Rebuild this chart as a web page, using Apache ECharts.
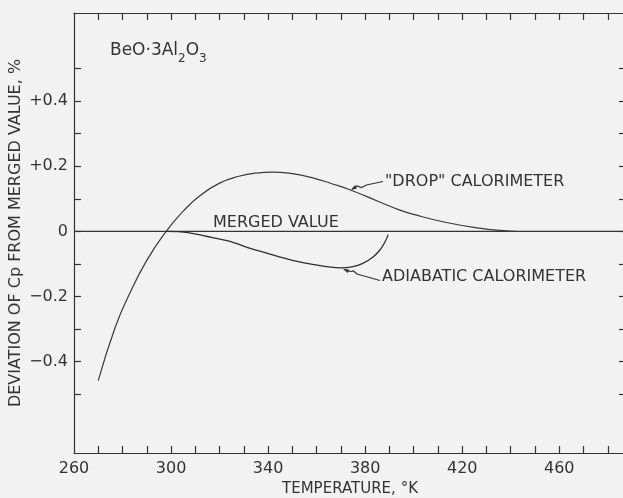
<!DOCTYPE html>
<html>
<head>
<meta charset="utf-8">
<script src="https://cdn.jsdelivr.net/npm/echarts@6/dist/echarts.min.js"></script>
<style>
  html, body { margin: 0; padding: 0; background: #f2f2f2; }
  #chart-container { width: 623px; height: 498px; }
</style>
</head>
<body>
<div id="chart-container"></div>
<script>
// datos
var dropTemp = [270, 277, 283, 290, 298, 305, 312, 320, 328, 335, 342, 350, 358, 366, 375, 386, 394, 400, 413, 427, 437, 442];
var dropDev = [-0.458, -0.294, -0.190, -0.089, 0, 0.062, 0.110, 0.148, 0.169, 0.179, 0.182, 0.177, 0.165, 0.147, 0.124, 0.090, 0.066, 0.052, 0.028, 0.010, 0.002, 0];

var adiaTemp = [298, 303, 307, 312, 317, 324, 331, 338, 345, 352, 359, 365, 370, 375, 379, 383, 386, 388, 389.5];
var adiaDev = [0, -0.001, -0.004, -0.011, -0.019, -0.030, -0.048, -0.064, -0.079, -0.092, -0.102, -0.109, -0.112, -0.108, -0.098, -0.080, -0.058, -0.035, -0.010];

var mergedTemp = [260, 490];
var mergedDev = [0, 0];

var xLabelValues = [260, 300, 340, 380, 420, 460];
var xTickValues = [270, 280, 290, 300, 310, 320, 330, 340, 350, 360, 370, 380, 390, 400, 410, 420, 430, 440, 450, 460, 470, 480];
var yLabelValues = [-0.4, -0.2, 0, 0.2, 0.4];
var yTickValues = [-0.5, -0.4, -0.3, -0.2, -0.1, 0, 0.1, 0.2, 0.3, 0.4, 0.5];

function pairs(xs, ys) {
  return xs.map(function (x, i) { return [x, ys[i]]; });
}

var ink = '#333333';
var font = 'DejaVu Sans';

var dom = document.getElementById('chart-container');
var myChart = echarts.init(dom, null, { renderer: 'canvas' });

function xAxisBase(pos, showLabels) {
  return {
    type: 'value',
    position: pos,
    min: 260,
    max: 487.5,
    axisLine: { show: true, onZero: false, lineStyle: { color: ink, width: 1.2 } },
    axisTick: { show: true, inside: true, length: 7, customValues: xTickValues, lineStyle: { color: ink, width: 1.2 } },
    axisLabel: { show: showLabels, customValues: xLabelValues, fontSize: 16, fontFamily: font, color: ink, margin: 8 },
    splitLine: { show: false }
  };
}

function yAxisBase(pos, showLabels) {
  return {
    type: 'value',
    position: pos,
    min: -0.68,
    max: 0.67,
    axisLine: { show: true, onZero: false, lineStyle: { color: ink, width: 1.2 } },
    axisTick: { show: true, inside: true, length: 7, customValues: yTickValues, lineStyle: { color: ink, width: 1.2 } },
    axisLabel: {
      show: showLabels,
      customValues: yLabelValues,
      fontSize: 16,
      fontFamily: font,
      color: ink,
      margin: 6,
      formatter: function (v) {
        if (Math.abs(v) < 1e-9) return '0';
        return (v > 0 ? '+' : '\u2212') + Math.abs(v).toFixed(1);
      }
    },
    splitLine: { show: false }
  };
}

var xBottom = xAxisBase('bottom', true);
xBottom.name = 'TEMPERATURE, \u00B0K';
xBottom.nameLocation = 'middle';
xBottom.nameGap = 29;
xBottom.nameMoveOverlap = false;
xBottom.nameTextStyle = { fontSize: 15, fontFamily: font, color: ink };

var yLeft = yAxisBase('left', true);
yLeft.name = 'DEVIATION OF Cp FROM MERGED VALUE, %';
yLeft.nameLocation = 'middle';
yLeft.nameRotate = 90;
yLeft.nameGap = 50;
yLeft.nameMoveOverlap = false;
yLeft.nameTextStyle = { fontSize: 16, fontFamily: font, color: ink };

var textStyle = { fill: ink, fontSize: 16, fontFamily: font };

var option = {
  backgroundColor: '#f2f2f2',
  animation: false,
  grid: { left: 74, top: 13, width: 552, height: 440, outerBoundsMode: 'none', containLabel: false },
  xAxis: [xBottom, xAxisBase('top', false)],
  yAxis: [yLeft, yAxisBase('right', false)],
  series: [
    {
      type: 'line',
      data: pairs(mergedTemp, mergedDev),
      showSymbol: false,
      clip: true,
      lineStyle: { color: ink, width: 1.4 }
    },
    {
      type: 'line',
      data: pairs(dropTemp, dropDev),
      smooth: 0.5,
      showSymbol: false,
      lineStyle: { color: '#3a3a3a', width: 1.2 }
    },
    {
      type: 'line',
      data: pairs(adiaTemp, adiaDev),
      smooth: 0.4,
      showSymbol: false,
      lineStyle: { color: '#2e2e2e', width: 1.3 }
    }
  ],
  graphic: [
    // BeO·3Al2O3
    { type: 'text', x: 110, y: 51, style: { text: 'BeO\u00B73Al', fill: ink, fontSize: 17, fontFamily: font, verticalAlign: 'middle' } },
    { type: 'text', x: 178, y: 59, style: { text: '2', fill: ink, fontSize: 12, fontFamily: font, verticalAlign: 'middle' } },
    { type: 'text', x: 185.7, y: 51, style: { text: 'O', fill: ink, fontSize: 17, fontFamily: font, verticalAlign: 'middle' } },
    { type: 'text', x: 199, y: 59, style: { text: '3', fill: ink, fontSize: 12, fontFamily: font, verticalAlign: 'middle' } },
    // etiquetas de las curvas
    { type: 'text', x: 213, y: 223, style: Object.assign({ text: 'MERGED VALUE', verticalAlign: 'middle' }, textStyle) },
    { type: 'text', x: 385, y: 182, style: Object.assign({ text: '"DROP" CALORIMETER', verticalAlign: 'middle' }, textStyle) },
    { type: 'text', x: 382, y: 277, style: Object.assign({ text: 'ADIABATIC CALORIMETER', verticalAlign: 'middle' }, textStyle) },
    // flechas
    { type: 'polyline', shape: { points: [[352, 189], [357, 186], [361.5, 187.5], [366.5, 185], [383, 181.5]] }, style: { stroke: ink, lineWidth: 1.2, fill: null } },
    { type: 'polygon', shape: { points: [[351, 190], [357, 188.5], [355, 185]] }, style: { fill: ink } },
    { type: 'polyline', shape: { points: [[344, 269.5], [350, 271.5], [353.5, 271], [357, 274], [380, 280.5]] }, style: { stroke: ink, lineWidth: 1.2, fill: null } },
    { type: 'polygon', shape: { points: [[343, 269], [347.7, 273.1], [349.3, 269.5]] }, style: { fill: ink } }
  ]
};

if (option && typeof option === 'object') {
  myChart.setOption(option);
}

window.addEventListener('resize', myChart.resize);
</script>
</body>
</html>
